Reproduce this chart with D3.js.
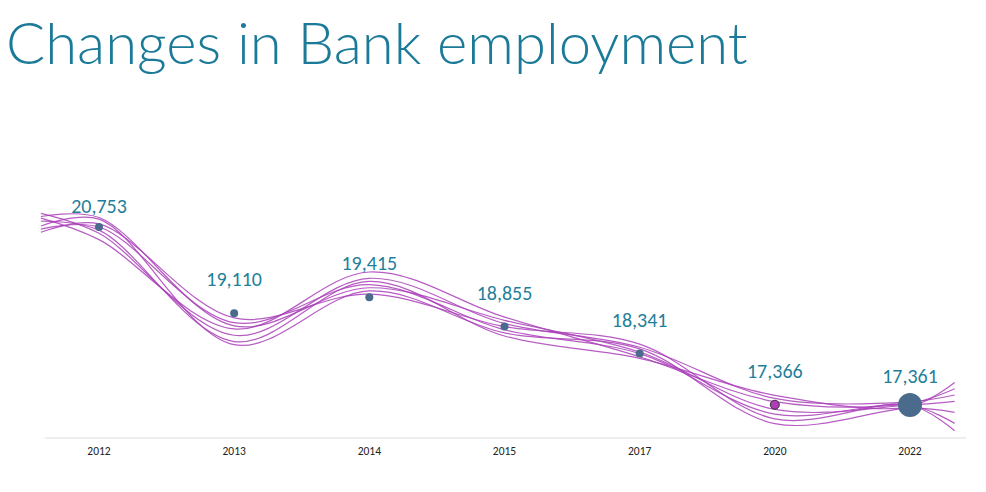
<!DOCTYPE html>
<html><head><meta charset="utf-8">
<script src="https://cdn.jsdelivr.net/npm/d3@7"></script>
<style>body{margin:0;background:#fff}</style></head>
<body><svg id="c" width="986" height="492"></svg>
<script>
const years = ["2012","2013","2014","2015","2017","2020","2022"];
const values = [20753,19110,19415,18855,18341,17366,17361];
const labels = ["20,753","19,110","19,415","18,855","18,341","17,366","17,361"];
// strand offsets (value units) at: start-extension, each year, end-extension
const strandOffsets = [
  [-120, 0, -180, 240, -60, 0, -180, 0, -360],
  [180, -120, -420, 360, 60, 120, 120, 60, 180],
  [-60, 150, -600, 120, -120, 90, -360, -60, -150],
  [90, -240, -300, 480, 180, -60, 60, 30, 300],
  [-180, 60, -90, 60, 0, 180, -270, 0, -500],
  [30, -60, -540, 300, -180, -90, 180, -30, 420],
  [120, 180, -240, 180, 120, 30, -90, 0, 60]
];
const svg = d3.select("#c");
const x = d3.scaleLinear().domain([0,6]).range([99,910]);
const y = d3.scaleLinear().domain([17361,20753]).range([405,227]);
svg.append("text").attr("x",6).attr("y",64).text("Changes in Bank employment")
  .attr("font-family","Lato, 'Open Sans', sans-serif").attr("font-weight",300)
  .attr("font-size",58).attr("fill","#1b7a98");
svg.append("line").attr("x1",45).attr("x2",966).attr("y1",438).attr("y2",438).attr("stroke","#ddd");
years.forEach((yr,i)=>svg.append("text").attr("x",x(i)).attr("y",455).attr("text-anchor","middle")
  .attr("font-family","Calibri, Carlito, 'Liberation Sans', sans-serif").attr("font-size",11.5).attr("fill","#222").text(yr));
const idx = [-0.43,0,1,2,3,4,5,6,0.33+6];
const line = d3.line().x(d=>x(d[0])).y(d=>y(d[1])).curve(d3.curveCatmullRom.alpha(0.5));
const ext = [values[0]+80, ...values, values[6]+10];
strandOffsets.forEach(off=>{
  const pts = idx.map((t,k)=>[t, ext[k]+off[k]]);
  svg.append("path").attr("d",line(pts)).attr("fill","none").attr("stroke","#a93fb8")
    .attr("stroke-width",1.2).attr("opacity",0.85);
});
values.forEach((v,i)=>{
  const big = i===6, purple = i===5;
  svg.append("circle").attr("cx",x(i)).attr("cy",y(v)).attr("r",big?12:purple?4.5:4)
    .attr("fill",purple?"#b03cb8":"#4b6b8c").attr("stroke",purple?"#333":"none");
  svg.append("text").attr("x",x(i)).attr("y",y(v)-(i===0?14:i===6?22:27)).attr("text-anchor","middle")
    .attr("font-family","Calibri, Carlito, 'Open Sans', sans-serif").attr("font-size",20)
    .attr("fill","#1f7f9a").text(labels[i]);
});
</script></body></html>
